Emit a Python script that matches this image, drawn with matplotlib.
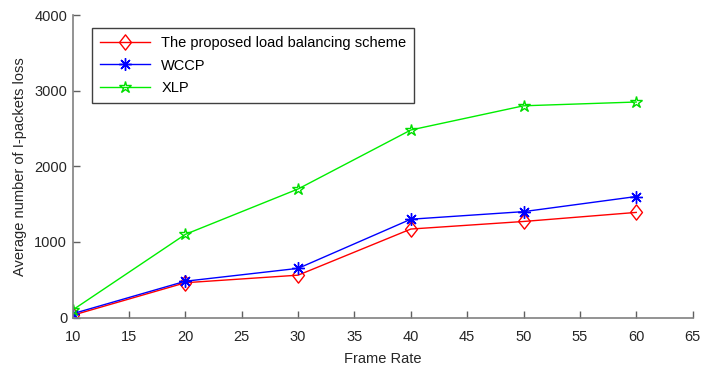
# I-packet loss versus frame rate for three schemes

import numpy as np
import matplotlib.pyplot as plt
from matplotlib.path import Path

frame_rate = [10, 20, 30, 40, 50, 60]
proposed = [30, 460, 560, 1170, 1270, 1390]
wccp = [50, 480, 650, 1300, 1400, 1600]
xlp = [100, 1100, 1700, 2480, 2800, 2850]

plt.rcParams['font.family'] = ['Liberation Sans', 'DejaVu Sans']

# matlab style diamond, a bit taller than wide
diamond = Path([(0, 1), (0.78, 0), (0, -1), (-0.78, 0), (0, 1)], closed=True)

fig = plt.figure(figsize=(7.02, 3.72), dpi=100)
ax = fig.add_axes([0.1036, 0.1465, 0.883, 0.813])

ax.plot(frame_rate, proposed, color='#ff0000', lw=1, marker=diamond, ms=11,
        mfc='none', mec='#ff0000', mew=1, label='The proposed load balancing scheme')
ax.plot(frame_rate, wccp, color='#0000ff', lw=1, marker=(8, 2, 0), ms=9,
        mec='#0000ff', mew=1, label='WCCP')
ax.plot(frame_rate, xlp, color='#00ee00', lw=1, marker='*', ms=9,
        mfc='none', mec='#00dd00', mew=1, label='XLP')

ax.set_xlim(10, 65)
ax.set_ylim(0, 4000)
ax.set_xticks(np.arange(10, 66, 5))
ax.set_yticks([0, 1000, 2000, 3000, 4000])
ax.set_xlabel('Frame Rate', fontsize=10.5, color='#262626', labelpad=6)
ax.set_ylabel('Average number of I-packets loss', fontsize=10.5, color='#262626',
              labelpad=5)

for s in ['top', 'right']:
    ax.spines[s].set_visible(False)
for s in ['left', 'bottom']:
    ax.spines[s].set_color('#808080')
    ax.spines[s].set_linewidth(1.2)
ax.tick_params(direction='in', length=5, color='#606060', labelsize=10.5,
               labelcolor='#262626', width=1)
ax.tick_params(axis='x', pad=9)
ax.tick_params(axis='y', pad=4)

leg = ax.legend(loc='upper left', bbox_to_anchor=(0.031, 0.957), fontsize=10.5,
                fancybox=False, edgecolor='#404040', framealpha=1,
                handlelength=3.4, borderpad=0.55, labelspacing=0.58,
                borderaxespad=0)
leg.get_frame().set_linewidth(1)

fig.savefig('out.png', dpi=100)
